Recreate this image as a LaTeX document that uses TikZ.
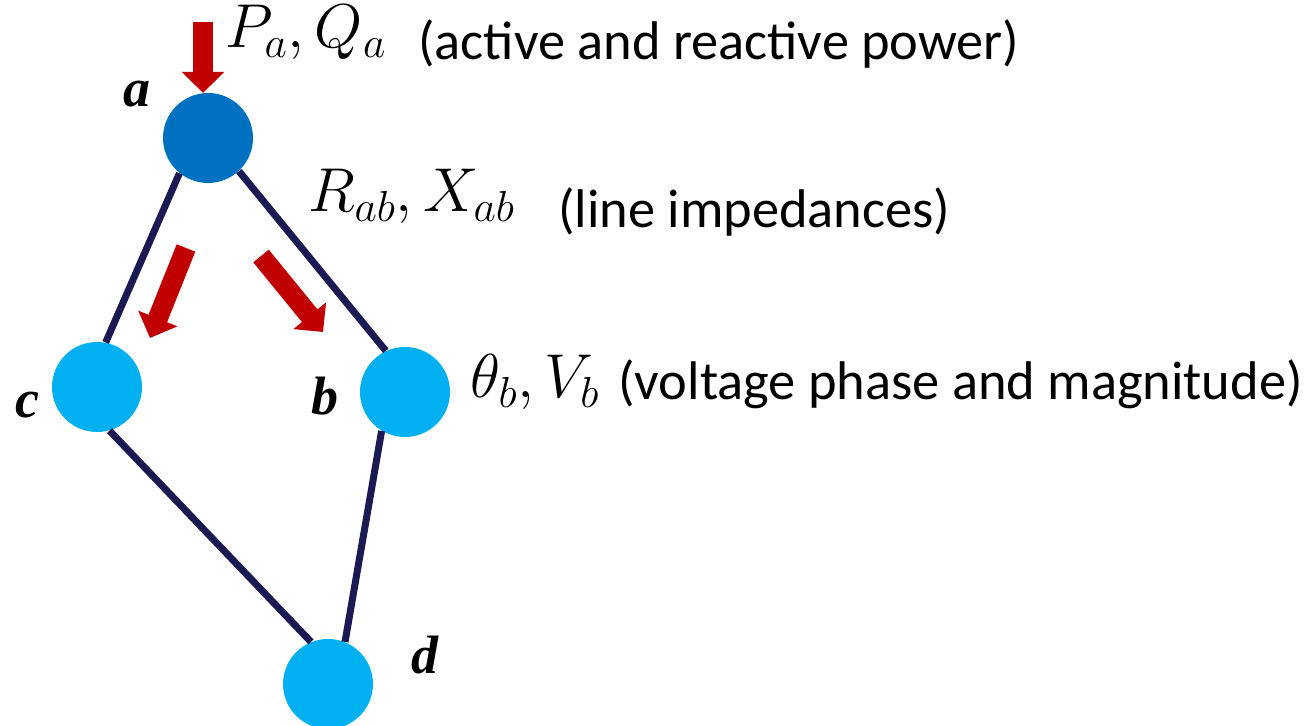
\documentclass[tikz,border=0pt]{standalone}
\usepackage{fix-cm}
\usepackage{fontspec}
\newfontfamily\carlfont{Carlito}
\newfontfamily\timesfont{Liberation Serif}
\usetikzlibrary{arrows.meta}
\definecolor{darkbus}{HTML}{0070C0}
\definecolor{lightbus}{HTML}{00B0F0}
\definecolor{linenavy}{HTML}{1C1A52}
\definecolor{flowred}{HTML}{C00000}
\tikzset{
  bus/.style={circle, minimum size=45pt, inner sep=0pt, fill=lightbus},
  topbus/.style={bus, fill=darkbus},
  branch/.style={draw=linenavy, line width=3.5pt},
  flow/.style={draw=flowred, line width=10pt, -{Triangle[width=20.5pt,length=10.5pt]}},
  busname/.style={anchor=base west, inner sep=0pt, font=\timesfont\bfseries\itshape\fontsize{27}{32}\selectfont},
  mathlabel/.style={anchor=base west, inner sep=0pt, font=\fontsize{31}{37}\selectfont},
  note/.style={anchor=base west, inner sep=0pt, font=\carlfont\fontsize{27.2}{32}\selectfont}
}
\begin{document}
\begin{tikzpicture}[x=0.5pt, y=-0.5pt]
\useasboundingbox (0,0) rectangle (1316,726);
% buses
\node[topbus] (a) at (208,138) {};
\node[bus] (c) at (97,387) {};
\node[bus] (b) at (405,392) {};
\node[bus] (d) at (328,684) {};
% branches
\draw[branch] (a.231) -- (c.79);
\draw[branch] (a.313) -- (b.115);
\draw[branch] (c.286) -- (d.112);
\draw[branch] (b.239) -- (d.68);
% flow arrows
\coordinate (inTail) at (203,22);
\coordinate (inTip) at (203,93);
\coordinate (acTail) at (186,248);
\coordinate (acTip) at (150,338);
\coordinate (abTail) at (261,256);
\coordinate (abTip) at (323,332);
\draw[flow] (inTail) -- (inTip);
\draw[flow] (acTail) -- (acTip);
\draw[flow] (abTail) -- (abTip);
% bus names
\node[busname] (la) at (123,107) {a};
\node[busname] (lc) at (15,418) {c};
\node[busname] (lb) at (311,415) {b};
\node[busname] (ld) at (411,673) {d};
% labels
\node[mathlabel] (pq) at (225,48) {$P_a, Q_a$};
\node[note] (pqn) at (418,60) {(active and reactive power)};
\node[mathlabel] (rx) at (308,212) {$R_{ab}, X_{ab}$};
\node[note] (rxn) at (558,228) {(line impedances)};
\node[mathlabel] (tv) at (470,398) {$\theta_b, V_b$};
\node[note] (tvn) at (618,400) {(voltage phase and magnitude)};
\end{tikzpicture}
\end{document}
